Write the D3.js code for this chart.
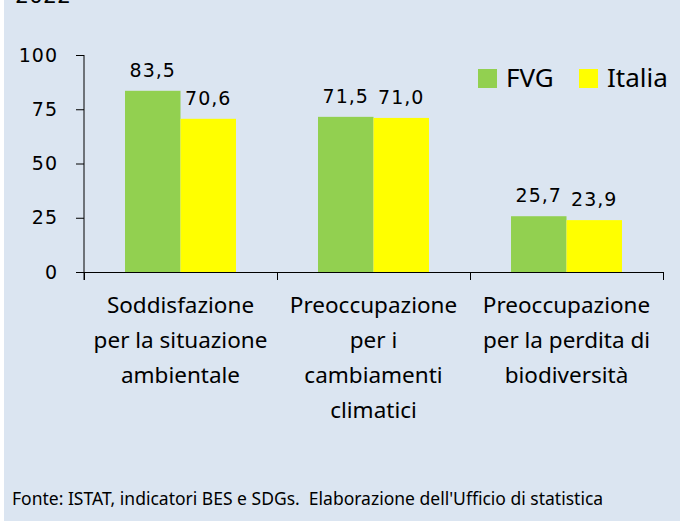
<!DOCTYPE html>
<html>
<head>
<meta charset="utf-8">
<script src="https://cdn.jsdelivr.net/npm/d3@7"></script>
<style>
  body { margin: 0; background: #fff; }
  svg { display: block; }
</style>
</head>
<body>
<svg id="vis"></svg>
<script>
const width = 680;
const height = 521;

// data
const categories = [
  ["Soddisfazione", "per la situazione", "ambientale"],
  ["Preoccupazione", "per i", "cambiamenti", "climatici"],
  ["Preoccupazione", "per la perdita di", "biodiversità"]
];
const series = ["FVG", "Italia"];
const fvg = [83.5, 71.5, 25.7];
const italia = [70.6, 71.0, 23.9];
const yTicks = [0, 25, 50, 75, 100];
const colors = ["#92d050", "#ffff00"];

const svg = d3.select("svg#vis").attr("width", width).attr("height", height);

svg.append("rect")
  .attr("x", 4).attr("y", 0)
  .attr("width", width - 4).attr("height", height)
  .attr("fill", "#dbe5f1");

// title, cut off at the top edge as in the original
svg.append("text")
  .attr("x", 15).attr("y", 3)
  .style("font-family", "DejaVu Sans")
  .style("font-size", "22px")
  .text("2022");

const catIds = categories.map((d, i) => i);

let x0 = d3.scaleBand()
  .domain(catIds)
  .range([84, 663])
  .paddingInner(0.425)
  .paddingOuter(0.2125);

let x1 = d3.scaleBand()
  .domain(series)
  .range([0, x0.bandwidth()]);

let y = d3.scaleLinear().domain([0, 100]).range([272, 55]);

const values = catIds.map(i => [fvg[i], italia[i]]);

const groups = svg.selectAll("g.group")
  .data(values)
  .enter()
  .append("g")
  .attr("class", "group")
  .attr("transform", (d, i) => "translate(" + x0(i) + ",0)");

groups.selectAll("rect")
  .data(d => d)
  .enter()
  .append("rect")
  .attr("x", (d, j) => x1(series[j]))
  .attr("width", x1.bandwidth())
  .attr("y", d => y(d))
  .attr("height", d => y(0) - y(d))
  .attr("fill", (d, j) => colors[j]);

groups.selectAll("text.val")
  .data(d => d)
  .enter()
  .append("text")
  .attr("class", "val")
  .attr("x", (d, j) => x1(series[j]) + x1.bandwidth() / 2)
  .attr("y", d => y(d) - 14)
  .attr("text-anchor", "middle")
  .style("font-family", "DejaVu Sans")
  .style("font-size", "19px")
  .style("letter-spacing", "1px")
  .text(d => d3.format(".1f")(d).replace(".", ","));

// y axis
const yAxis = svg.append("g")
  .attr("transform", "translate(84,0)")
  .call(d3.axisLeft(y).tickValues(yTicks).tickSize(8).tickSizeOuter(0).tickPadding(18));
yAxis.select(".domain").attr("d", "M0," + y(100) + "V" + (y(0) + 8));
yAxis.selectAll("line").attr("stroke", "#000");
yAxis.selectAll("text")
  .style("font-family", "DejaVu Sans")
  .style("font-size", "19px")
  .style("letter-spacing", "1px")
  .attr("fill", "#000");

// x axis
const step = x0.step();
const bounds = catIds.map(i => x0(i) - step * x0.paddingInner() / 2);
bounds.push(x0(catIds.length - 1) + x0.bandwidth() + step * x0.paddingInner() / 2);

svg.append("line")
  .attr("x1", bounds[0]).attr("x2", bounds[bounds.length - 1])
  .attr("y1", y(0) + 0.5).attr("y2", y(0) + 0.5)
  .attr("stroke", "#000");

svg.selectAll("line.xtick")
  .data(bounds)
  .enter()
  .append("line")
  .attr("class", "xtick")
  .attr("x1", d => d + 0.5).attr("x2", d => d + 0.5)
  .attr("y1", y(0)).attr("y2", y(0) + 8)
  .attr("stroke", "#000");

const catLabels = svg.selectAll("text.cat")
  .data(categories)
  .enter()
  .append("text")
  .attr("class", "cat")
  .attr("text-anchor", "middle")
  .style("font-family", "Noto Sans")
  .style("font-size", "22.5px")
  .attr("fill", "#000");

catLabels.selectAll("tspan")
  .data((d, i) => d.map(line => ({ line: line, i: i })))
  .enter()
  .append("tspan")
  .attr("x", d => x0(d.i) + x0.bandwidth() / 2)
  .attr("y", (d, k) => 313 + k * 35)
  .text(d => d.line);

// legend
const legend = svg.selectAll("g.legend")
  .data(series)
  .enter()
  .append("g")
  .attr("class", "legend")
  .attr("transform", (d, i) => "translate(" + [478, 579][i] + ",69)");

legend.append("rect")
  .attr("width", 19).attr("height", 19)
  .attr("fill", (d, i) => colors[i]);

legend.append("text")
  .attr("x", 28).attr("y", 18)
  .style("font-family", "Noto Sans")
  .style("font-size", "26px")
  .text(d => d);

// footer
svg.append("text")
  .attr("x", 12).attr("y", 505)
  .style("font-family", "Noto Sans")
  .style("font-size", "17.5px")
  .text("Fonte: ISTAT, indicatori BES e SDGs.\u00a0 Elaborazione dell'Ufficio di statistica");
</script>
</body>
</html>
